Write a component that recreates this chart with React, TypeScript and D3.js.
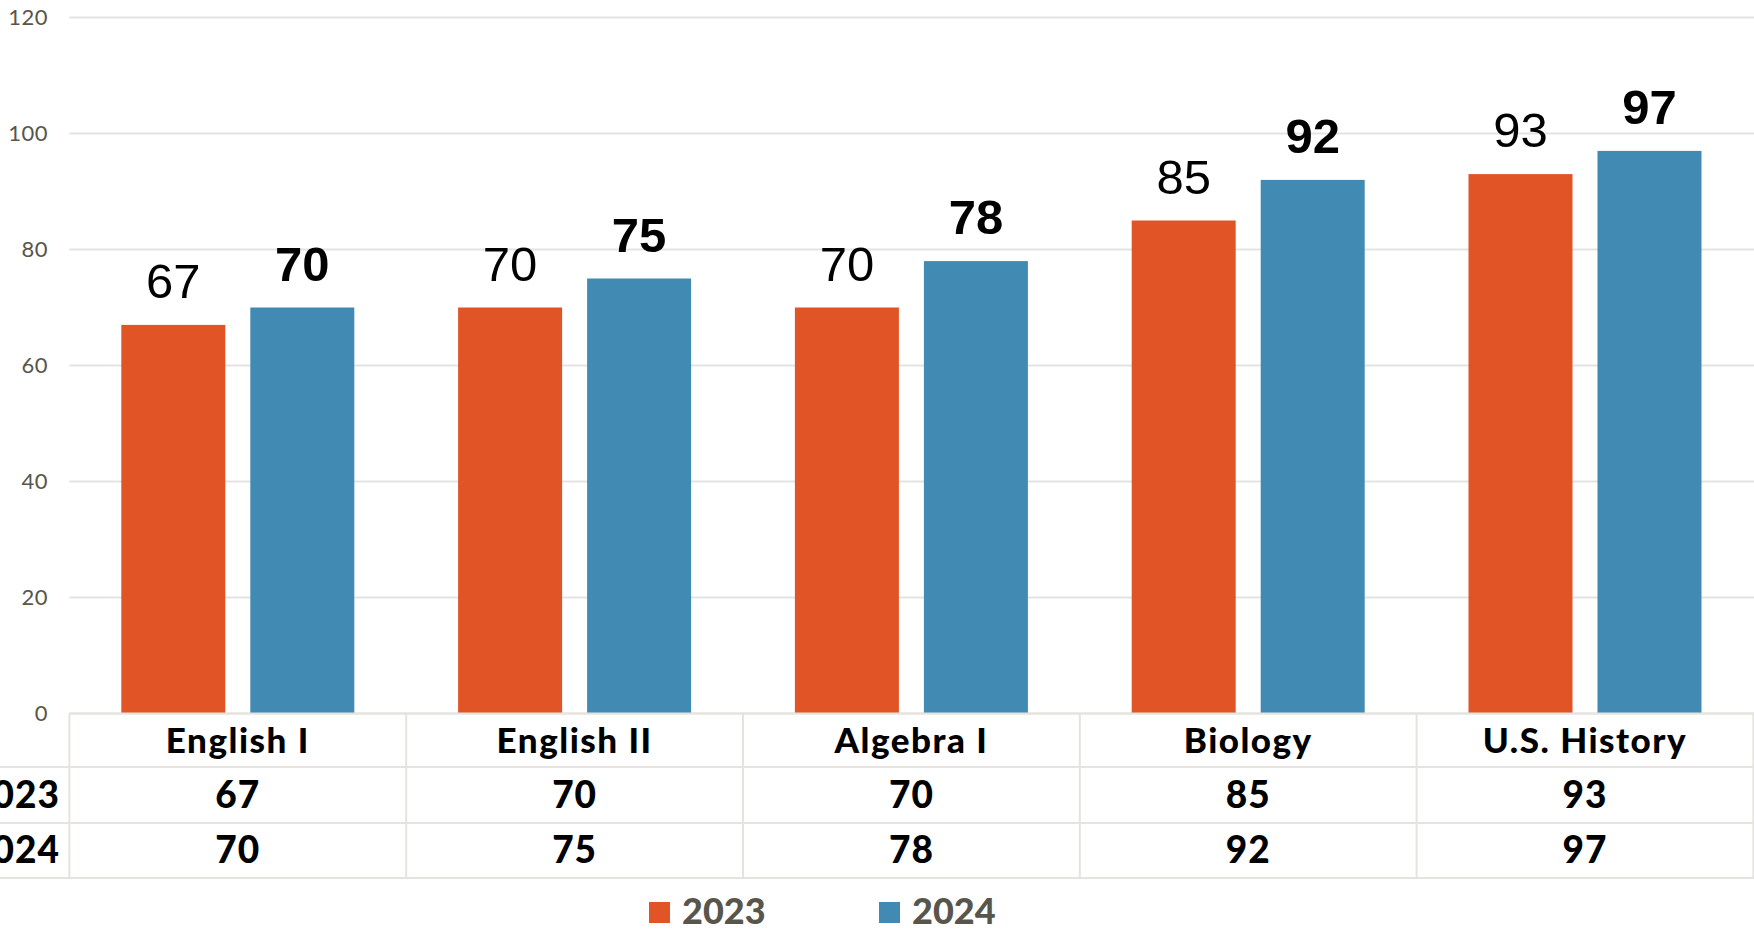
import React from "react";
import * as d3 from "d3";

const categories = ["English I", "English II", "Algebra I", "Biology", "U.S. History"];
const series = ["2023", "2024"];
const values2023 = [67, 70, 70, 85, 93];
const values2024 = [70, 75, 78, 92, 97];
const yTicks = [0, 20, 40, 60, 80, 100, 120];

const W = 1754;
const H = 929;
const COLORS: Record<string, string> = { "2023": "#E05426", "2024": "#418AB3" };
const GEO = "Lato, 'Open Sans', sans-serif";
const LBL = "'Liberation Sans', Arial, sans-serif";

export default function App() {
  const plotLeft = 69.4;
  const plotRight = 1753.4;
  const y = d3.scaleLinear().domain([0, 120]).range([713.5, 17.5]);
  const x = d3.scaleBand<string>().domain(categories).range([plotLeft, plotRight]).padding(0);
  const bw = x.bandwidth();
  const groupW = 233;
  const inner = d3
    .scaleBand<string>()
    .domain(series)
    .range([(bw - groupW) / 2, (bw + groupW) / 2])
    .paddingInner(0.1938)
    .paddingOuter(0);
  const dataBySeries: Record<string, number[]> = { "2023": values2023, "2024": values2024 };

  const tableTop = y(0);
  const rowLines = [tableTop, 767, 823, 878];
  const rowBaselines = [753, 808, 863];

  return (
    <svg
      width={W}
      height={H}
      style={{ position: "absolute", left: 0, top: 0, background: "#fff" }}
    >
      {/* gridlines */}
      {yTicks.map((t) => (
        <g key={t}>
          <line x1={plotLeft} x2={W} y1={y(t)} y2={y(t)} stroke="#e3e3e3" strokeWidth={2} />
          <text
            x={48}
            y={y(t)}
            dy="0.36em"
            textAnchor="end"
            fontFamily={GEO}
            fontSize={22}
            letterSpacing={0.5}
            fill="#57554c"
          >
            {t}
          </text>
        </g>
      ))}

      {/* bars */}
      {categories.map((c, i) => (
        <g key={c} transform={`translate(${x(c)},0)`}>
          {series.map((s) => {
            const v = dataBySeries[s][i];
            const bx = inner(s)!;
            return (
              <g key={s}>
                <rect
                  x={bx}
                  y={y(v)}
                  width={inner.bandwidth()}
                  height={y(0) - y(v)}
                  fill={COLORS[s]}
                />
                <text
                  x={bx + inner.bandwidth() / 2}
                  y={y(v) - 27}
                  textAnchor="middle"
                  fontFamily={LBL}
                  fontWeight={s === "2024" ? 700 : 400}
                  fontSize={49}
                  fill="#000"
                >
                  {v}
                </text>
              </g>
            );
          })}
        </g>
      ))}

      {/* data table */}
      {rowLines.map((ry, i) => (
        <line
          key={i}
          x1={i === 0 ? plotLeft : 0}
          x2={W}
          y1={ry}
          y2={ry}
          stroke="#e5e3de"
          strokeWidth={2}
        />
      ))}
      {[...categories.map((c) => x(c)!), plotRight].map((cx, i) => (
        <line
          key={i}
          x1={cx}
          x2={cx}
          y1={tableTop}
          y2={rowLines[3]}
          stroke="#e5e3de"
          strokeWidth={2}
        />
      ))}
      {categories.map((c, i) => (
        <g key={c}>
          <text
            x={x(c)! + bw / 2}
            y={rowBaselines[0]}
            textAnchor="middle"
            fontFamily={GEO}
            fontWeight={900}
            fontSize={35}
            letterSpacing={1.5}
            fill="#000"
          >
            {c}
          </text>
          <text
            x={x(c)! + bw / 2}
            y={rowBaselines[1]}
            textAnchor="middle"
            fontFamily={GEO}
            fontWeight={900}
            fontSize={37}
            letterSpacing={1}
            fill="#000"
          >
            {values2023[i]}
          </text>
          <text
            x={x(c)! + bw / 2}
            y={rowBaselines[2]}
            textAnchor="middle"
            fontFamily={GEO}
            fontWeight={900}
            fontSize={37}
            letterSpacing={1}
            fill="#000"
          >
            {values2024[i]}
          </text>
        </g>
      ))}
      {series.map((s, i) => (
        <text
          key={s}
          x={60}
          y={rowBaselines[i + 1]}
          textAnchor="end"
          fontFamily={GEO}
          fontWeight={900}
          fontSize={37}
          letterSpacing={1}
          fill="#000"
        >
          {s}
        </text>
      ))}

      {/* legend */}
      {series.map((s, i) => {
        const lx = i === 0 ? 649 : 879;
        return (
          <g key={s}>
            <rect x={lx} y={902} width={21} height={21} fill={COLORS[s]} />
            <text
              x={lx + 33}
              y={924}
              fontFamily={GEO}
              fontWeight={900}
              fontSize={36}
              fill="#57554c"
            >
              {s}
            </text>
          </g>
        );
      })}
    </svg>
  );
}
